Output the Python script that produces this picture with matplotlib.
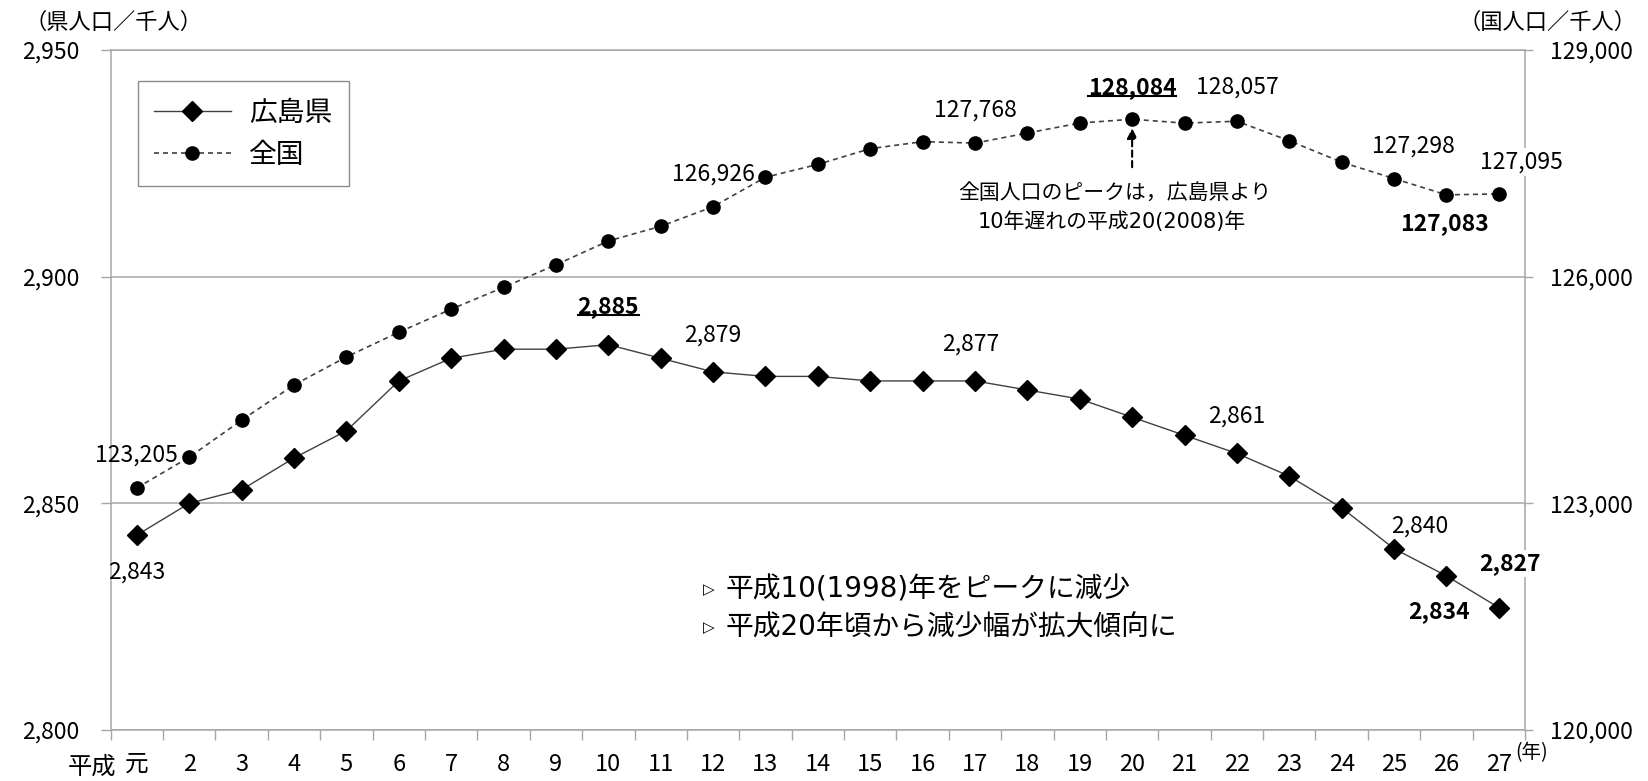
import matplotlib
matplotlib.use('Agg')
import matplotlib.pyplot as plt
from matplotlib.ticker import FuncFormatter
from matplotlib.lines import Line2D
import numpy as np

plt.rcParams['font.family'] = ['Noto Sans CJK JP', 'DejaVu Sans']

# ---------------- data ----------------
years = list(range(1, 28))                      # 平成元年 .. 平成27年
year_labels = ['元'] + [str(i) for i in range(2, 28)]
hiroshima = [2843, 2850, 2853, 2860, 2866, 2877, 2882, 2884, 2884, 2885,
             2882, 2879, 2878, 2878, 2877, 2877, 2877, 2875, 2873, 2869,
             2865, 2861, 2856, 2849, 2840, 2834, 2827]
national = [123205, 123611, 124101, 124567, 124938, 125265, 125570, 125859,
            126157, 126472, 126667, 126926, 127316, 127486, 127694, 127787,
            127768, 127901, 128033, 128084, 128032, 128057, 127799, 127515,
            127298, 127083, 127095]
left_ticks = [2800, 2850, 2900, 2950]
right_ticks = [120000, 123000, 126000, 129000]
series_names = ['広島県', '全国']

# label specs: (year, dx px, dy px, bold, underline, white box)
hiro_labels = [(1, 0, -37, False, False, False), (10, 0, 38, True, True, False),
               (12, 0, 37, False, False, False), (17, -4, 37, False, False, False),
               (22, 0, 37, False, False, False), (25, 26, 23, False, False, False),
               (26, -7, -36, True, False, False), (27, 11, 44, True, False, True)]
nat_labels = [(1, 0, 33, False, False, False), (12, 0, 33, False, False, False),
              (17, 0, 33, False, False, False), (20, 0, 32, True, True, False),
              (22, 0, 34, False, False, False), (25, 19, 32, False, False, False),
              (26, -2, -29, True, False, False), (27, 23, 32, False, False, True)]

W, H = 1648, 781
DPI = 100
PT = 72.0 / DPI   # points per pixel

fig = plt.figure(figsize=(W / DPI, H / DPI), dpi=DPI)
ax_l, ax_r, ax_t, ax_b = 110.7, 1525, 50, 730
ax = fig.add_axes([ax_l / W, 1 - ax_b / H, (ax_r - ax_l) / W, (ax_b - ax_t) / H])
ax2 = ax.twinx()

grid_c = '#a6a6a6'
line_c = '#404040'

l1, = ax.plot(years, hiroshima, color=line_c, lw=1.0, marker='D', ms=10.4,
              mfc='black', mec='black', zorder=3)
l2, = ax2.plot(years, national, color=line_c, lw=1.2, ls=(0, (3.0, 2.4)), marker='o',
               ms=9.5, mfc='black', mec='black', zorder=3)

ax.set_xlim(0.5, 27.5)
ax.set_ylim(left_ticks[0], left_ticks[-1])
ax2.set_ylim(right_ticks[0], right_ticks[-1])

comma = FuncFormatter(lambda v, p: f'{int(v):,}')
ax.set_yticks(left_ticks)
ax.yaxis.set_major_formatter(comma)
ax2.set_yticks(right_ticks)
ax2.yaxis.set_major_formatter(comma)

ax.tick_params(axis='y', direction='out', length=10 * PT, width=1.0, color=grid_c,
               labelsize=16.5, pad=15.5)
ax2.tick_params(axis='y', direction='out', length=8 * PT, width=1.0, color=grid_c,
                labelsize=16.5, pad=12)

ax.set_xticks(years)
ax.set_xticklabels(year_labels)
ax.set_xticks(np.arange(0.5, 28, 1), minor=True)
ax.tick_params(axis='x', which='major', length=0, labelsize=17, pad=16.5)
ax.tick_params(axis='x', which='minor', direction='out', length=10 * PT, width=1.0,
               color=grid_c)

ax.yaxis.grid(True, color=grid_c, lw=1.1)
ax.set_axisbelow(True)
for s in ['left', 'right', 'bottom', 'top']:
    ax.spines[s].set_color(grid_c)
    ax.spines[s].set_linewidth(1.1)
for s in ax2.spines.values():
    s.set_visible(False)

# legend
ax2.legend(handles=[l1, l2], labels=series_names, loc='upper left',
           bbox_to_anchor=(0.019, 0.954), borderaxespad=0, frameon=True,
           fancybox=False, edgecolor='#8c8c8c', framealpha=1, fontsize=20,
           handlelength=2.75, handletextpad=0.65, borderpad=0.6, labelspacing=0.42)

# data labels
underlined = []
def put_labels(specs, values, trans):
    for (yr, dx, dy, bold, ul, box) in specs:
        v = values[yr - 1]
        kw = {}
        if box:
            kw['bbox'] = dict(boxstyle='square,pad=0.1', fc='white', ec='none')
        t = ax2.annotate(f'{v:,}', xy=(yr, v), xycoords=trans,
                         xytext=(dx * PT, dy * PT), textcoords='offset points',
                         ha='center', va='center', fontsize=16.5,
                         fontweight='bold' if bold else 'normal', zorder=5, **kw)
        if ul:
            underlined.append(t)

put_labels(hiro_labels, hiroshima, ax.transData)
put_labels(nat_labels, national, ax2.transData)

# peak arrow for national series
pk = national.index(max(national)) + 1
ax2.annotate('', xy=(pk, max(national)), xycoords='data',
             xytext=(0, -48 * PT), textcoords='offset points',
             arrowprops=dict(arrowstyle='-|>,head_length=0.6,head_width=0.3',
                             color='black', lw=1.5, ls=(0, (3, 2)),
                             shrinkA=0, shrinkB=9 * PT))

mixed = ['DejaVu Sans', 'Noto Sans CJK JP']
ax2.text(0.710, 0.790, '全国人口のピークは，広島県より', transform=ax.transAxes,
         ha='center', va='center', fontsize=15)
ax2.text(0.708, 0.747, '10年遅れの平成20(2008)年', transform=ax.transAxes,
         ha='center', va='center', fontsize=15, family=mixed)

# bullet notes
notes = ['平成10(1998)年をピークに減少', '平成20年頃から減少幅が拡大傾向に']
for i, yfr in enumerate([0.206, 0.151]):
    ax2.text(0.419, yfr, '▷', transform=ax.transAxes, ha='left', va='center',
             fontsize=11, family=['DejaVu Sans'])
    ax2.text(0.4350, yfr, notes[i], transform=ax.transAxes, ha='left', va='center',
             fontsize=20, family=mixed)

# axis captions
fig.text(24 / W, 1 - 22 / H, '（県人口／千人）', ha='left', va='center', fontsize=16)
fig.text(1458 / W, 1 - 22 / H, '（国人口／千人）', ha='left', va='center', fontsize=16)
ax.annotate('平成', xy=(1, 0), xycoords=('data', 'axes fraction'),
            xytext=(-21 * PT, -37 * PT), textcoords='offset points',
            ha='right', va='center', fontsize=17.5)
ax.annotate('(年)', xy=(1, 0), xycoords=('axes fraction', 'axes fraction'),
            xytext=(-10 * PT, -23 * PT), textcoords='offset points',
            ha='left', va='center', fontsize=14)

# underline decorations
fig.canvas.draw()
r = fig.canvas.get_renderer()
for t in underlined:
    bb = t.get_window_extent(r)
    yy = bb.y0 + 3
    fig.add_artist(Line2D([bb.x0 / W, bb.x1 / W], [yy / H, yy / H],
                          transform=fig.transFigure, color='black', lw=1.5))

fig.savefig('out.png', dpi=DPI)
